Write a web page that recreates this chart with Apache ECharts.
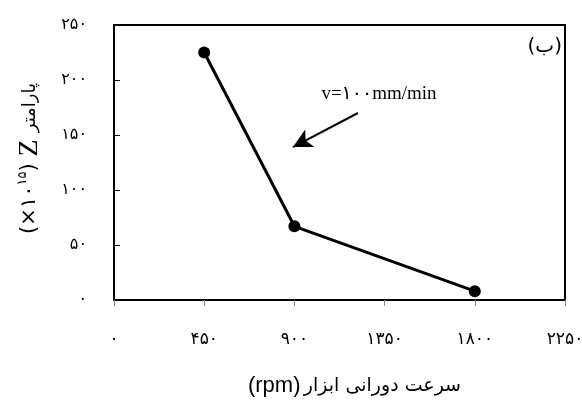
<!DOCTYPE html>
<html>
<head>
<meta charset="utf-8">
<script src="https://cdn.jsdelivr.net/npm/echarts@6/dist/echarts.min.js"></script>
<style>
  html, body { margin: 0; padding: 0; background: #fff; }
  #chart { width: 582px; height: 401px; }
</style>
</head>
<body>
<div id="chart"></div>
<script>
// سرعت دورانی ابزار و پارامتر Z
const speeds = [450, 900, 1800];
const zValues = [225, 67, 8];
const xTicks = [0, 450, 900, 1350, 1800, 2250];
const yTicks = [0, 50, 100, 150, 200, 250];
const noteText = 'v=۱۰۰mm/min';
const arrowFrom = [1217, 170];
const arrowTo = [893, 139];
const notePos = [1322, 187];

const faDigits = '۰۱۲۳۴۵۶۷۸۹';
function toFa(n) {
  return String(n).replace(/[0-9]/g, d => faDigits[d]);
}

const chart = echarts.init(document.getElementById('chart'));

const option = {
  animation: false,
  grid: {
    left: 114, right: 17, top: 25, bottom: 101,
    outerBoundsMode: 'none',
    containLabel: false,
    show: true, borderColor: '#000', borderWidth: 2
  },
  xAxis: {
    type: 'value',
    min: xTicks[0], max: xTicks[xTicks.length - 1], interval: 450,
    axisLine: { show: true, lineStyle: { color: '#000', width: 2 } },
    axisTick: { show: true, inside: false, length: 6, lineStyle: { color: '#888' } },
    splitLine: { show: false },
    axisLabel: {
      margin: 31, color: '#000', fontSize: 17, fontFamily: 'DejaVu Sans',
      formatter: v => toFa(v)
    },
    name: '{r|(rpm)} {t|سرعت دورانی ابزار}',
    nameLocation: 'middle',
    nameGap: 75,
    nameTextStyle: {
      color: '#000',
      padding: [0, 0, 0, 30],
      rich: {
        r: { fontSize: 22, fontFamily: 'Liberation Sans', color: '#000' },
        t: { fontSize: 19, fontFamily: 'DejaVu Sans', color: '#000' }
      }
    }
  },
  yAxis: {
    type: 'value',
    min: yTicks[0], max: yTicks[yTicks.length - 1], interval: 50,
    axisLine: { show: true, lineStyle: { color: '#000', width: 2 } },
    axisTick: { show: true, inside: true, length: 6, lineStyle: { color: '#000' } },
    splitLine: { show: false },
    axisLabel: {
      margin: 27, color: '#000', fontSize: 16, fontFamily: 'DejaVu Sans',
      formatter: v => toFa(v)
    },
    name: '{a|(×۱۰}{s|۱۵}{a|)}{z| Z }{p|پارامتر}',
    nameLocation: 'middle',
    nameGap: 70,
    nameRotate: 90,
    nameTextStyle: {
      color: '#000',
      padding: [0, 0, 0, 8],
      rich: {
        a: { fontSize: 21, fontFamily: 'DejaVu Sans', color: '#000' },
        s: { fontSize: 13, fontFamily: 'DejaVu Sans', color: '#000', verticalAlign: 'top', padding: [0, 0, 12, 0] },
        z: { fontSize: 28, fontFamily: 'Liberation Serif', color: '#000' },
        p: { fontSize: 18, fontFamily: 'DejaVu Sans', color: '#000' }
      }
    }
  },
  series: [
    {
      type: 'line',
      data: speeds.map((x, i) => [x, zValues[i]]),
      symbol: 'circle',
      symbolSize: 12,
      lineStyle: { color: '#000', width: 3 },
      itemStyle: { color: '#000' },
      z: 3,
      markLine: {
        silent: true,
        symbol: ['none', 'arrow'],
        symbolSize: [15, 19],
        label: { show: false },
        lineStyle: { color: '#000', width: 2, type: 'solid' },
        data: [[{ coord: arrowFrom }, { coord: arrowTo }]]
      },
      markPoint: {
        silent: true,
        symbol: 'rect',
        symbolSize: 1,
        itemStyle: { color: 'rgba(0,0,0,0)' },
        data: [{
          coord: notePos,
          label: {
            show: true, position: 'inside', formatter: noteText, color: '#000',
            fontSize: 19, fontFamily: 'Liberation Serif, DejaVu Sans'
          }
        }]
      }
    }
  ],
  graphic: [{
    type: 'text',
    right: 20, top: 37,
    style: { text: '(ب)', fontSize: 20, fontFamily: 'DejaVu Sans', fill: '#000' }
  }]
};

chart.setOption(option);
</script>
</body>
</html>
